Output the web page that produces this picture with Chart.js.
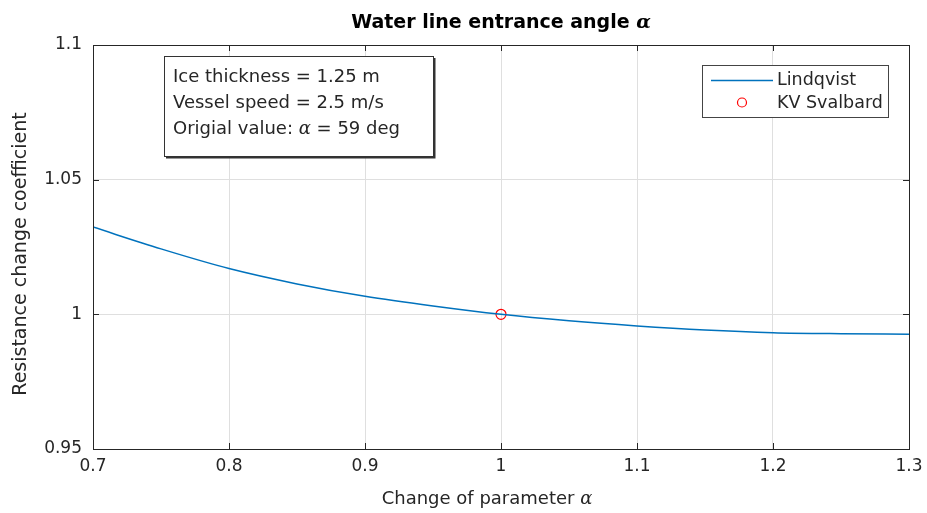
<!DOCTYPE html>
<html>
<head>
<meta charset="utf-8">
<script src="https://cdn.jsdelivr.net/npm/chart.js@4/dist/chart.umd.min.js"></script>
<style>html,body{margin:0;padding:0;background:#fff;}canvas{display:block;}</style>
</head>
<body>
<canvas id="c" width="927" height="513"></canvas>
<script>
// ---- data ----
const paramValues = [0.7, 0.75, 0.8, 0.85, 0.9, 0.95, 1.0, 1.05, 1.1, 1.15, 1.2, 1.25, 1.3];
const lindqvist   = [1.0324, 1.0243, 1.0170, 1.0113, 1.0067, 1.0031, 1.0000, 0.9976, 0.9957, 0.9942, 0.9932, 0.9928, 0.9926];
const svalbardX = [1.0];
const svalbardY = [1.0];
const xTicks = [0.7, 0.8, 0.9, 1.0, 1.1, 1.2, 1.3];
const yTicks = [0.95, 1.0, 1.05, 1.1];
const seriesNames = ['Lindqvist', 'KV Svalbard'];
const titleText = ['Water line entrance angle ', 'α'];
const xTitle = ['Change of parameter ', 'α'];
const yTitle = 'Resistance change coefficient';
const infoLines = [['Ice thickness = 1.25 m'], ['Vessel speed = 2.5 m/s'], ['Origial value: ', 'α', ' = 59 deg']];

const FONT = '"DejaVu Sans", Verdana, sans-serif';
const GREEK = '"DejaVu Serif", serif';
const TXT = '#262626';
const BLUE = '#0072BD';
const RED = '#FF0000';

function drawMixed(ctx, parts, x, y, font, italicFont, align) {
  let widths = parts.map(p => { ctx.font = (p === 'α') ? italicFont : font; return ctx.measureText(p).width; });
  let total = widths.reduce((a, b) => a + b, 0);
  let cx = align === 'center' ? x - total / 2 : x;
  ctx.textAlign = 'left';
  parts.forEach((p, i) => {
    ctx.font = (p === 'α') ? italicFont : font;
    ctx.fillText(p, cx, y);
    cx += widths[i];
  });
}

const decor = {
  id: 'decor',
  afterDraw(chart) {
    const ctx = chart.ctx;
    const a = chart.chartArea;
    const xs = chart.scales.x, ys = chart.scales.y;
    ctx.save();
    // frame
    ctx.strokeStyle = TXT;
    ctx.lineWidth = 1;
    ctx.strokeRect(Math.round(a.left) + 0.5, Math.round(a.top) + 0.5, Math.round(a.right - a.left), Math.round(a.bottom - a.top));
    // inward ticks
    ctx.beginPath();
    xTicks.forEach(v => {
      const px = Math.round(xs.getPixelForValue(v)) + 0.5;
      ctx.moveTo(px, a.bottom); ctx.lineTo(px, a.bottom - 6);
      ctx.moveTo(px, a.top); ctx.lineTo(px, a.top + 6);
    });
    yTicks.forEach(v => {
      const py = Math.round(ys.getPixelForValue(v)) + 0.5;
      ctx.moveTo(a.left, py); ctx.lineTo(a.left + 6, py);
      ctx.moveTo(a.right, py); ctx.lineTo(a.right - 6, py);
    });
    ctx.stroke();

    ctx.fillStyle = '#000';
    ctx.textBaseline = 'middle';
    // title
    drawMixed(ctx, titleText, (a.left + a.right) / 2, 23, 'bold 19px ' + FONT, 'italic bold 19px ' + GREEK, 'center');
    // x title
    ctx.fillStyle = TXT;
    drawMixed(ctx, xTitle, 487, 499, '18px ' + FONT, 'italic 18px ' + GREEK, 'center');
    // y title
    ctx.save();
    ctx.translate(21, 254);
    ctx.rotate(-Math.PI / 2);
    ctx.font = '19px ' + FONT;
    ctx.textAlign = 'center';
    ctx.fillText(yTitle, 0, 0);
    ctx.restore();

    // info box
    const bx = 164, by = 56, bw = 269, bh = 100;
    ctx.fillStyle = '#fff';
    ctx.fillRect(bx, by, bw, bh);
    ctx.strokeStyle = '#333';
    ctx.lineWidth = 1;
    ctx.strokeRect(bx + 0.5, by + 0.5, bw, bh);
    ctx.lineWidth = 2;
    ctx.beginPath();
    ctx.moveTo(bx + 2, by + bh + 1.5); ctx.lineTo(bx + bw + 1.5, by + bh + 1.5); ctx.lineTo(bx + bw + 1.5, by + 2);
    ctx.stroke();
    ctx.fillStyle = TXT;
    infoLines.forEach((parts, i) => {
      drawMixed(ctx, parts, 173, 77 + i * 26, '18px ' + FONT, 'italic 18px ' + GREEK, 'left');
    });

    // legend
    const lx = 702, ly = 65, lw = 186, lh = 52;
    ctx.fillStyle = '#fff';
    ctx.fillRect(lx, ly, lw, lh);
    ctx.strokeStyle = '#444';
    ctx.lineWidth = 1;
    ctx.strokeRect(lx + 0.5, ly + 0.5, lw, lh);
    ctx.strokeStyle = BLUE;
    ctx.lineWidth = 1.5;
    ctx.beginPath(); ctx.moveTo(711, 80.5); ctx.lineTo(773, 80.5); ctx.stroke();
    ctx.strokeStyle = RED;
    ctx.lineWidth = 1.2;
    ctx.beginPath(); ctx.arc(742, 102.5, 4.5, 0, Math.PI * 2); ctx.stroke();
    ctx.fillStyle = TXT;
    ctx.font = '17.5px ' + FONT;
    ctx.textAlign = 'left';
    ctx.fillText(chart.data.datasets[0].label, 777, 80);
    ctx.fillText(chart.data.datasets[1].label, 777, 103);
    ctx.restore();
  }
};

new Chart(document.getElementById('c'), {
  type: 'line',
  data: {
    datasets: [
      {
        label: seriesNames[0],
        data: paramValues.map((x, i) => ({ x: x, y: lindqvist[i] })),
        borderColor: BLUE,
        borderWidth: 1.5,
        pointRadius: 0,
        cubicInterpolationMode: 'monotone',
        fill: false
      },
      {
        label: seriesNames[1],
        data: svalbardX.map((x, i) => ({ x: x, y: svalbardY[i] })),
        showLine: false,
        borderColor: RED,
        pointBorderColor: RED,
        pointBackgroundColor: 'rgba(0,0,0,0)',
        pointRadius: 5,
        pointBorderWidth: 1.2
      }
    ]
  },
  options: {
    responsive: false,
    animation: false,
    layout: { padding: { left: 0, right: 18, top: 45, bottom: 0 } },
    plugins: { legend: { display: false }, title: { display: false }, tooltip: { enabled: false } },
    scales: {
      x: {
        type: 'linear', min: 0.7, max: 1.3,
        afterBuildTicks(s) { s.ticks = xTicks.map(v => ({ value: v })); },
        afterFit(s) { s.height = 64; s.paddingRight = 0; s.paddingLeft = 0; },
        grid: { color: '#dfdfdf', lineWidth: 1, drawTicks: false },
        border: { display: false },
        ticks: {
          padding: 7, color: TXT, font: { family: FONT, size: 17 },
          maxRotation: 0, autoSkip: false,
          callback: v => String(+(+v).toFixed(2))
        }
      },
      y: {
        type: 'linear', min: 0.95, max: 1.1,
        afterBuildTicks(s) { s.ticks = yTicks.map(v => ({ value: v })); },
        afterFit(s) { s.width = 93; s.paddingTop = 0; s.paddingBottom = 0; },
        grid: { color: '#dfdfdf', lineWidth: 1, drawTicks: false },
        border: { display: false },
        ticks: {
          padding: 11, color: TXT, font: { family: FONT, size: 17 },
          callback: v => String(+(+v).toFixed(2))
        }
      }
    }
  },
  plugins: [decor]
});
</script>
</body>
</html>
